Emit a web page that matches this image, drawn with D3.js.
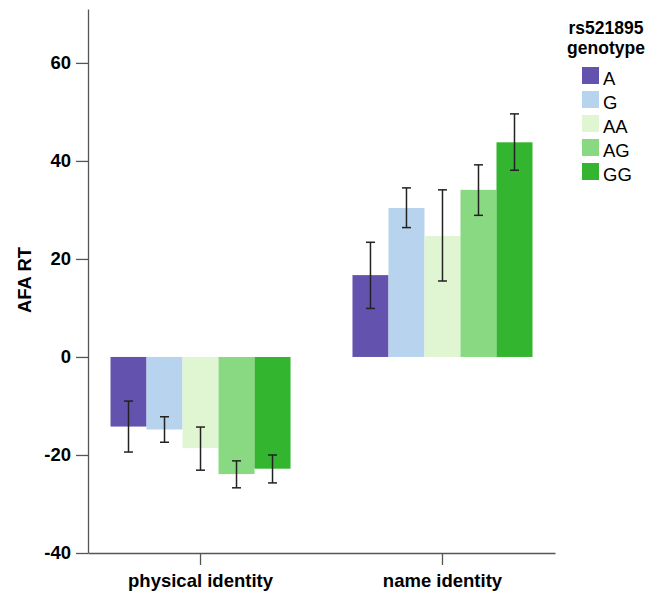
<!DOCTYPE html>
<html>
<head>
<meta charset="utf-8">
<script src="https://cdn.jsdelivr.net/npm/d3@7"></script>
<style>
  body { margin: 0; background: #fff; }
  svg text { font-family: "Liberation Sans", Arial, sans-serif; }
</style>
</head>
<body>
<div id="chart"></div>
<script>
// categories and series
var categories = ["physical identity", "name identity"];
var genotypes = ["A", "G", "AA", "AG", "GG"];
var colors = ["#6353ae", "#b7d3ee", "#e0f6d2", "#89d982", "#34b52f"];

// means and error bar ends, one per genotype
var physicalMean = [-14.2, -14.8, -18.6, -23.9, -22.8];
var physicalLow = [-19.4, -17.4, -23.1, -26.7, -25.7];
var physicalHigh = [-9.0, -12.2, -14.3, -21.2, -20.0];
var nameMean = [16.7, 30.4, 24.7, 34.1, 43.8];
var nameLow = [9.9, 26.4, 15.5, 28.9, 38.1];
var nameHigh = [23.4, 34.5, 34.1, 39.2, 49.6];

var yTicks = [-40, -20, 0, 20, 40, 60];

var rows = [];
genotypes.forEach(function (g, i) {
  rows.push({ cat: categories[0], g: g, mean: physicalMean[i], lo: physicalLow[i], hi: physicalHigh[i] });
  rows.push({ cat: categories[1], g: g, mean: nameMean[i], lo: nameLow[i], hi: nameHigh[i] });
});

const svg = d3.select("#chart")
  .append("svg")
  .attr("width", 664)
  .attr("height", 594);

const x = d3.scaleBand().domain(categories).range([88, 555])
  .paddingInner(0.256).paddingOuter(0.093);
const xg = d3.scaleBand().domain(genotypes).range([0, x.bandwidth()]);
const y = d3.scaleLinear().domain([-40, 71]).range([553, 9]);
const color = d3.scaleOrdinal().domain(genotypes).range(colors);

// bars
svg.append("g")
  .selectAll("rect")
  .data(rows)
  .join("rect")
  .attr("x", d => x(d.cat) + xg(d.g))
  .attr("width", xg.bandwidth())
  .attr("y", d => y(Math.max(0, d.mean)))
  .attr("height", d => Math.abs(y(d.mean) - y(0)))
  .attr("fill", d => color(d.g));

// error bars
var err = svg.append("g")
  .attr("stroke", "#222")
  .attr("stroke-width", 1.5)
  .selectAll("g")
  .data(rows)
  .join("g");
var cx = d => x(d.cat) + xg(d.g) + xg.bandwidth() / 2;
err.append("line")
  .attr("x1", cx).attr("x2", cx)
  .attr("y1", d => y(d.lo)).attr("y2", d => y(d.hi));
err.append("line")
  .attr("x1", d => cx(d) - 4.5).attr("x2", d => cx(d) + 4.5)
  .attr("y1", d => y(d.lo)).attr("y2", d => y(d.lo));
err.append("line")
  .attr("x1", d => cx(d) - 4.5).attr("x2", d => cx(d) + 4.5)
  .attr("y1", d => y(d.hi)).attr("y2", d => y(d.hi));

// axes
const yAxis = svg.append("g")
  .attr("transform", "translate(88,0)")
  .call(d3.axisLeft(y).tickValues(yTicks).tickFormat(d => String(d))
    .tickSize(12).tickSizeOuter(0).tickPadding(5));
const xAxis = svg.append("g")
  .attr("transform", "translate(0,553)")
  .call(d3.axisBottom(x).tickSize(12).tickSizeOuter(0).tickPadding(9));

[yAxis, xAxis].forEach(function (a) {
  a.selectAll("path, line").attr("stroke", "#555").attr("stroke-width", 1.3);
  a.selectAll("text")
    .attr("fill", "#000")
    .style("font-size", "18.5px")
    .style("font-weight", "bold");
});

// y label
svg.append("text")
  .attr("transform", "translate(31,280) rotate(-90)")
  .attr("text-anchor", "middle")
  .style("font-size", "18.5px")
  .style("font-weight", "bold")
  .text("AFA RT");

// legend
var legend = svg.append("g");
legend.append("text")
  .attr("x", 606).attr("y", 33.5)
  .attr("text-anchor", "middle")
  .style("font-size", "17.5px").style("font-weight", "bold")
  .text("rs521895");
legend.append("text")
  .attr("x", 606).attr("y", 54)
  .attr("text-anchor", "middle")
  .style("font-size", "17.5px").style("font-weight", "bold")
  .text("genotype");

var items = legend.selectAll("g.item")
  .data(genotypes)
  .join("g")
  .attr("class", "item")
  .attr("transform", (d, i) => `translate(582, ${67 + i * 24})`);
items.append("rect")
  .attr("width", 17).attr("height", 17)
  .attr("fill", d => color(d));
items.append("text")
  .attr("x", 21).attr("y", 18)
  .style("font-size", "18.5px")
  .text(d => d);
</script>
</body>
</html>
